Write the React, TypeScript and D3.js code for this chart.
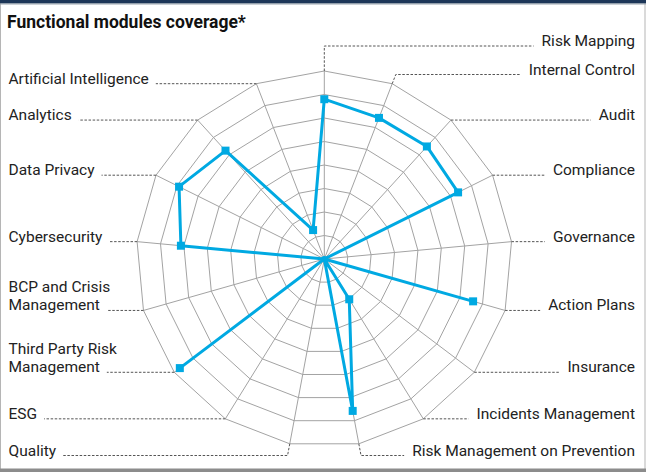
import React, { useEffect, useRef } from "react";
import * as d3 from "d3";

const W = 646;
const H = 472;

// modules, clockwise from the top
const modules = [
  "Risk Mapping",
  "Internal Control",
  "Audit",
  "Compliance",
  "Governance",
  "Action Plans",
  "Insurance",
  "Incidents Management",
  "Risk Management on Prevention",
  "Quality",
  "ESG",
  "Third Party Risk\nManagement",
  "BCP and Crisis\nManagement",
  "Cybersecurity",
  "Data Privacy",
  "Analytics",
  "Artificial Intelligence",
];

// coverage score (0-100)
const coverage = [85, 80.5, 81, 79.5, 0, 82.3, 0, 25.2, 82.2, 0, 0, 96.3, 0, 76.6, 86.3, 78, 16.5];

const gridLevels = [12.5, 25, 37.5, 50, 62.5, 75, 87.5, 100];

// where leader lines for the top/bottom labels turn horizontal
const leaderBreak: Record<number, number> = { 0: 46, 1: 74.5, 8: 455.5, 9: 455.5 };

const cx = 324.3;
const cy = 259;
const R = 188;
const font = "Roboto, 'Liberation Sans', Arial, sans-serif";

export default function App() {
  const svgRef = useRef<SVGSVGElement>(null);

  useEffect(() => {
    const svg = d3.select(svgRef.current);
    svg.selectAll("*").remove();

    const n = modules.length;
    const angle = d3
      .scaleLinear()
      .domain([0, n])
      .range([0, 2 * Math.PI]);
    const r = d3.scaleLinear().domain([0, 100]).range([0, R]);

    const pt = (i: number, v: number): [number, number] => [
      cx + r(v) * Math.sin(angle(i)),
      cy - r(v) * Math.cos(angle(i)),
    ];

    // frame
    svg.append("rect").attr("x", 0.5).attr("y", 0).attr("width", W - 1.5).attr("height", H - 1.5)
      .attr("fill", "#fff").attr("stroke", "#b5b5b5").attr("stroke-width", 1);
    svg.append("rect").attr("x", 0).attr("y", 0).attr("width", W).attr("height", 3.5).attr("fill", "#1d3658");
    svg.append("rect").attr("x", 0).attr("y", 3.5).attr("width", W).attr("height", 1).attr("fill", "#9aa3ad");
    svg.append("rect").attr("x", 0).attr("y", H - 3.5).attr("width", W).attr("height", 3.5).attr("fill", "#8c8c8c");

    svg.append("text")
      .attr("x", 7)
      .attr("y", 28)
      .attr("font-family", font)
      .attr("font-weight", 700)
      .attr("font-size", 17.5)
      .attr("fill", "#111")
      .text("Functional modules coverage*");

    const g = svg.append("g");
    const idx = d3.range(n);

    // grid rings
    g.selectAll("polygon.ring")
      .data(gridLevels)
      .join("polygon")
      .attr("class", "ring")
      .attr("points", (lv) => idx.map((i) => pt(i, lv).join(",")).join(" "))
      .attr("fill", "none")
      .attr("stroke", "#a3a3a3")
      .attr("stroke-width", 1);

    // spokes
    g.selectAll("line.spoke")
      .data(idx)
      .join("line")
      .attr("class", "spoke")
      .attr("x1", cx)
      .attr("y1", cy)
      .attr("x2", (i) => pt(i, 100)[0])
      .attr("y2", (i) => pt(i, 100)[1])
      .attr("stroke", "#a3a3a3")
      .attr("stroke-width", 1);

    // labels + leaders
    const labels = g.append("g").attr("font-family", font).attr("font-size", 15.5).attr("fill", "#222");
    idx.forEach((i) => {
      const a = angle(i);
      const right = i <= n / 2;
      const [vx, vy] = pt(i, 100);
      let bx = vx;
      let by = vy;
      if (leaderBreak[i] !== undefined) {
        by = leaderBreak[i];
        const rr = (cy - by) / Math.cos(a);
        bx = cx + rr * Math.sin(a);
      }
      const lines = modules[i].split("\n");
      const t = labels
        .append("text")
        .attr("text-anchor", right ? "end" : "start")
        .attr("x", right ? 635 : 8.5);
      lines.forEach((ln, k) => {
        t.append("tspan")
          .attr("x", right ? 635 : 8.5)
          .attr("y", by - (lines.length - 1 - k) * 18)
          .text(ln);
      });
      const last = t.selectAll<SVGTSpanElement, unknown>("tspan").nodes();
      const w = (last[last.length - 1] as SVGTSpanElement).getComputedTextLength();
      const endX = right ? 635 - w - 8 : 8.5 + w + 7;
      const path = d3.path();
      path.moveTo(vx, vy);
      if (bx !== vx || by !== vy) path.lineTo(bx, by);
      path.lineTo(endX, by);
      g.append("path")
        .attr("d", path.toString())
        .attr("fill", "none")
        .attr("stroke", "#555")
        .attr("stroke-width", 1)
        .attr("stroke-dasharray", "2.5,1.6");
    });

    // series
    const line = d3
      .lineRadial<number>()
      .angle((_, i) => angle(i))
      .radius((v) => r(v))
      .curve(d3.curveLinearClosed);

    const s = g.append("g").attr("transform", `translate(${cx},${cy})`);
    s.append("path")
      .attr("d", line(coverage))
      .attr("fill", "none")
      .attr("stroke", "#00a9e2")
      .attr("stroke-width", 3)
      .attr("stroke-linejoin", "round");

    s.selectAll("rect")
      .data(coverage.map((v, i) => ({ v, i })).filter((d) => d.v > 0))
      .join("rect")
      .attr("x", (d) => r(d.v) * Math.sin(angle(d.i)) - 4)
      .attr("y", (d) => -r(d.v) * Math.cos(angle(d.i)) - 4)
      .attr("width", 8)
      .attr("height", 8)
      .attr("fill", "#00a9e2");
    s.append("circle").attr("r", 3).attr("fill", "#00a9e2");
  }, []);

  return (
    <svg
      ref={svgRef}
      width={W}
      height={H}
      style={{ position: "absolute", left: 0, top: 0, display: "block" }}
    />
  );
}
